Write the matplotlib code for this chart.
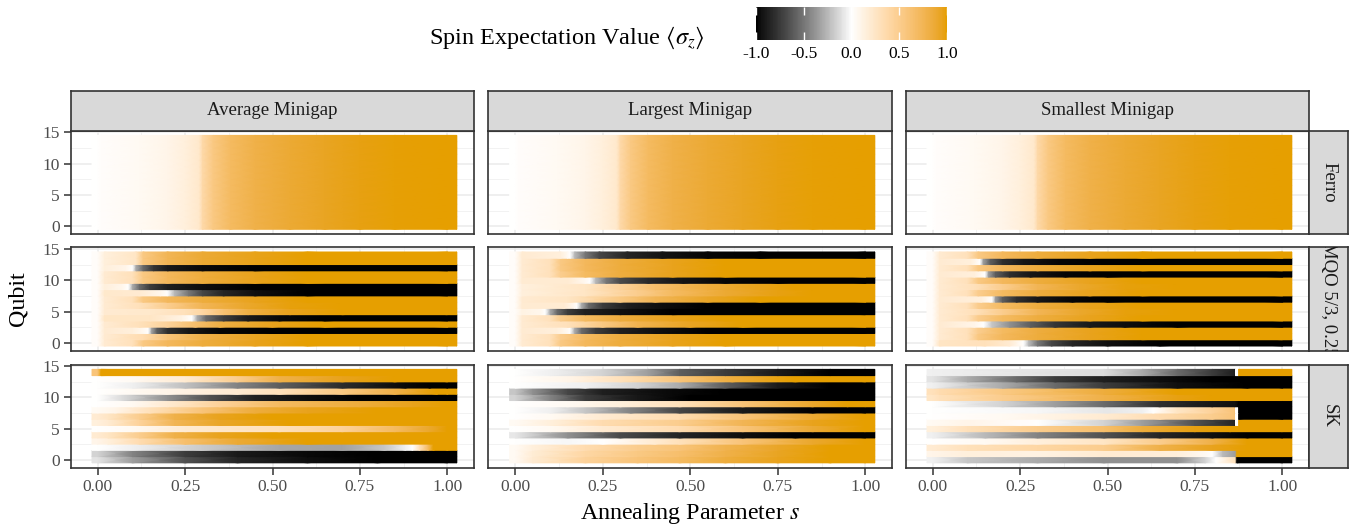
import numpy as np
import matplotlib
matplotlib.use("Agg")
import matplotlib.pyplot as plt
from matplotlib.colors import ListedColormap, to_rgb

plt.rcParams['font.family'] = ['Liberation Serif', 'DejaVu Serif']
plt.rcParams['mathtext.fontset'] = 'stix'
plt.rcParams['axes.unicode_minus'] = False

# each row: qubit 0..14, list of (s, <sigma_z>) points along the anneal
ferro_row = [(0.0, 0.0), (0.01, 0.02), (0.12, 0.05), (0.2, 0.1), (0.25, 0.15), (0.29, 0.22),
             (0.3, 0.38), (0.33, 0.55), (0.38, 0.7), (0.45, 0.8), (0.55, 0.88), (0.65, 0.93),
             (0.75, 0.97), (0.85, 0.99), (1.0, 1.0)]
ferro_avg = [ferro_row] * 15
ferro_large = [ferro_row] * 15
ferro_small = [ferro_row] * 15

mqo_avg = [
    [(0, 0.03), (0.02, 0.2), (0.1, 0.3), (0.13, 0.55), (0.2, 0.72), (0.3, 0.85), (0.45, 0.95), (0.6, 1), (1, 1)],
    [(0, 0.03), (0.02, 0.2), (0.13, 0.35), (0.2, 0.6), (0.3, 0.8), (0.45, 0.93), (0.6, 1), (1, 1)],
    [(0, 0.03), (0.02, 0.2), (0.1, 0.15), (0.135, 0.05), (0.145, 0), (0.155, -0.35), (0.17, -0.6), (0.2, -0.8), (0.26, -0.92), (0.35, -0.98), (0.5, -1), (1, -1)],
    [(0, 0.03), (0.02, 0.2), (0.12, 0.3), (0.2, 0.45), (0.28, 0.65), (0.35, 0.82), (0.5, 0.95), (0.65, 1), (1, 1)],
    [(0, 0.03), (0.02, 0.25), (0.15, 0.25), (0.24, 0.12), (0.27, 0), (0.285, -0.3), (0.31, -0.55), (0.36, -0.75), (0.43, -0.9), (0.52, -0.97), (0.65, -1), (1, -1)],
    [(0, 0.03), (0.02, 0.2), (0.15, 0.22), (0.25, 0.3), (0.3, 0.4), (0.36, 0.62), (0.43, 0.82), (0.55, 0.95), (0.7, 1), (1, 1)],
    [(0, 0.03), (0.02, 0.2), (0.12, 0.3), (0.2, 0.5), (0.3, 0.75), (0.42, 0.9), (0.55, 0.98), (0.7, 1), (1, 1)],
    [(0, 0.03), (0.02, 0.2), (0.1, 0.3), (0.13, 0.55), (0.2, 0.72), (0.3, 0.85), (0.45, 0.95), (0.6, 1), (1, 1)],
    [(0, 0.03), (0.02, 0.22), (0.12, 0.2), (0.18, 0.08), (0.2, 0), (0.22, -0.25), (0.26, -0.5), (0.3, -0.7), (0.36, -0.85), (0.45, -0.95), (0.6, -1), (1, -1)],
    [(0, 0.03), (0.02, 0.15), (0.07, 0.08), (0.088, 0), (0.1, -0.3), (0.12, -0.55), (0.15, -0.75), (0.2, -0.88), (0.3, -0.96), (0.45, -1), (1, -1)],
    [(0, 0.03), (0.02, 0.2), (0.1, 0.3), (0.13, 0.55), (0.2, 0.72), (0.3, 0.85), (0.45, 0.95), (0.6, 1), (1, 1)],
    [(0, 0.03), (0.02, 0.2), (0.1, 0.3), (0.13, 0.55), (0.2, 0.72), (0.3, 0.85), (0.45, 0.95), (0.6, 1), (1, 1)],
    [(0, 0.03), (0.02, 0.15), (0.08, 0.1), (0.1, 0), (0.11, -0.3), (0.13, -0.55), (0.16, -0.78), (0.2, -0.9), (0.3, -0.97), (0.45, -1), (1, -1)],
    [(0, 0.03), (0.02, 0.15), (0.11, 0.25), (0.13, 0.55), (0.2, 0.75), (0.3, 0.88), (0.45, 0.96), (0.6, 1), (1, 1)],
    [(0, 0.03), (0.02, 0.15), (0.11, 0.25), (0.13, 0.55), (0.2, 0.75), (0.3, 0.88), (0.45, 0.96), (0.6, 1), (1, 1)],
]

mqo_large = [
    [(0, 0.03), (0.02, 0.2), (0.1, 0.3), (0.13, 0.55), (0.2, 0.72), (0.3, 0.85), (0.45, 0.95), (0.6, 1), (1, 1)],
    [(0, 0.03), (0.02, 0.2), (0.1, 0.3), (0.13, 0.5), (0.2, 0.7), (0.3, 0.84), (0.45, 0.95), (0.6, 1), (1, 1)],
    [(0, 0.03), (0.02, 0.2), (0.12, 0.15), (0.15, 0.05), (0.157, 0), (0.17, -0.3), (0.19, -0.55), (0.23, -0.75), (0.3, -0.88), (0.4, -0.95), (0.55, -1), (1, -1)],
    [(0, 0.03), (0.02, 0.2), (0.15, 0.3), (0.25, 0.55), (0.35, 0.78), (0.5, 0.93), (0.65, 1), (1, 1)],
    [(0, 0.03), (0.02, 0.2), (0.1, 0.3), (0.13, 0.5), (0.2, 0.7), (0.3, 0.84), (0.45, 0.95), (0.6, 1), (1, 1)],
    [(0, 0.03), (0.02, 0.12), (0.07, 0.08), (0.086, 0), (0.1, -0.3), (0.12, -0.55), (0.15, -0.75), (0.2, -0.88), (0.3, -0.95), (0.45, -1), (1, -1)],
    [(0, 0.03), (0.02, 0.2), (0.14, 0.2), (0.17, 0.05), (0.176, 0), (0.19, -0.3), (0.21, -0.55), (0.25, -0.75), (0.32, -0.88), (0.42, -0.96), (0.55, -1), (1, -1)],
    [(0, 0.03), (0.02, 0.2), (0.15, 0.25), (0.3, 0.55), (0.4, 0.75), (0.55, 0.92), (0.7, 1), (1, 1)],
    [(0, 0.03), (0.02, 0.15), (0.2, 0.25), (0.35, 0.5), (0.45, 0.7), (0.6, 0.88), (0.75, 0.97), (0.85, 1), (1, 1)],
    [(0, 0.03), (0.02, 0.15), (0.2, 0.25), (0.3, 0.45), (0.4, 0.65), (0.55, 0.85), (0.7, 0.96), (0.8, 1), (1, 1)],
    [(0, 0.03), (0.02, 0.2), (0.15, 0.2), (0.2, 0.07), (0.214, 0), (0.23, -0.25), (0.26, -0.5), (0.3, -0.68), (0.38, -0.83), (0.48, -0.93), (0.6, -0.98), (0.75, -1), (1, -1)],
    [(0, 0.03), (0.02, 0.2), (0.1, 0.3), (0.13, 0.5), (0.2, 0.7), (0.3, 0.84), (0.45, 0.95), (0.6, 1), (1, 1)],
    [(0, 0.03), (0.02, 0.2), (0.1, 0.3), (0.13, 0.55), (0.2, 0.72), (0.3, 0.85), (0.45, 0.95), (0.6, 1), (1, 1)],
    [(0, 0.03), (0.02, 0.2), (0.1, 0.3), (0.13, 0.55), (0.2, 0.72), (0.3, 0.85), (0.45, 0.95), (0.6, 1), (1, 1)],
    [(0, 0.03), (0.02, 0.2), (0.13, 0.15), (0.15, 0.05), (0.157, 0), (0.17, -0.25), (0.2, -0.5), (0.24, -0.7), (0.32, -0.85), (0.42, -0.93), (0.55, -0.98), (0.7, -1), (1, -1)],
]

mqo_small = [
    [(0, 0.03), (0.02, 0.25), (0.15, 0.3), (0.22, 0.2), (0.26, 0), (0.275, -0.25), (0.3, -0.5), (0.34, -0.7), (0.4, -0.85), (0.5, -0.95), (0.65, -1), (1, -1)],
    [(0, 0.03), (0.02, 0.2), (0.1, 0.3), (0.13, 0.55), (0.2, 0.72), (0.3, 0.85), (0.45, 0.95), (0.6, 1), (1, 1)],
    [(0, 0.03), (0.02, 0.2), (0.1, 0.3), (0.13, 0.5), (0.2, 0.7), (0.3, 0.84), (0.45, 0.95), (0.6, 1), (1, 1)],
    [(0, 0.03), (0.02, 0.2), (0.12, 0.1), (0.146, 0), (0.17, -0.2), (0.22, -0.4), (0.28, -0.6), (0.35, -0.78), (0.45, -0.9), (0.55, -0.96), (0.7, -1), (1, -1)],
    [(0, 0.03), (0.02, 0.2), (0.1, 0.3), (0.13, 0.5), (0.2, 0.7), (0.3, 0.84), (0.45, 0.95), (0.6, 1), (1, 1)],
    [(0, 0.03), (0.02, 0.2), (0.12, 0.3), (0.2, 0.5), (0.3, 0.75), (0.42, 0.9), (0.55, 0.98), (0.7, 1), (1, 1)],
    [(0, 0.03), (0.02, 0.2), (0.1, 0.3), (0.13, 0.5), (0.2, 0.7), (0.3, 0.84), (0.45, 0.95), (0.6, 1), (1, 1)],
    [(0, 0.03), (0.02, 0.2), (0.14, 0.15), (0.165, 0.03), (0.17, 0), (0.18, -0.35), (0.2, -0.6), (0.24, -0.8), (0.3, -0.92), (0.4, -0.98), (0.5, -1), (1, -1)],
    [(0, 0.03), (0.02, 0.2), (0.1, 0.3), (0.13, 0.5), (0.2, 0.7), (0.3, 0.84), (0.45, 0.95), (0.6, 1), (1, 1)],
    [(0, 0.03), (0.02, 0.2), (0.12, 0.3), (0.2, 0.5), (0.3, 0.75), (0.42, 0.9), (0.55, 0.98), (0.7, 1), (1, 1)],
    [(0, 0.03), (0.02, 0.2), (0.1, 0.3), (0.13, 0.55), (0.2, 0.72), (0.3, 0.85), (0.45, 0.95), (0.6, 1), (1, 1)],
    [(0, 0.03), (0.02, 0.2), (0.12, 0.15), (0.15, 0), (0.16, -0.35), (0.18, -0.6), (0.22, -0.8), (0.28, -0.92), (0.38, -0.98), (0.5, -1), (1, -1)],
    [(0, 0.03), (0.02, 0.2), (0.1, 0.3), (0.13, 0.55), (0.2, 0.72), (0.3, 0.85), (0.45, 0.95), (0.6, 1), (1, 1)],
    [(0, 0.03), (0.02, 0.2), (0.11, 0.15), (0.136, 0), (0.145, -0.35), (0.165, -0.6), (0.2, -0.8), (0.26, -0.92), (0.36, -0.98), (0.5, -1), (1, -1)],
    [(0, 0.03), (0.02, 0.2), (0.1, 0.3), (0.13, 0.55), (0.2, 0.72), (0.3, 0.85), (0.45, 0.95), (0.6, 1), (1, 1)],
]

sk_avg = [
    [(0, -0.1), (0.1, -0.35), (0.25, -0.65), (0.4, -0.85), (0.6, -0.96), (0.8, -1), (1, -1)],
    [(0, -0.15), (0.1, -0.45), (0.25, -0.75), (0.4, -0.9), (0.6, -0.97), (0.8, -1), (1, -1)],
    [(0, 0), (0.1, -0.05), (0.3, -0.18), (0.52, -0.32), (0.7, -0.33), (0.82, -0.2), (0.88, -0.05), (0.9, 0), (0.92, 0.3), (0.945, 0.7), (0.96, 1), (1, 1)],
    [(0, 0.1), (0.03, 0.15), (0.12, 0.35), (0.25, 0.65), (0.4, 0.88), (0.6, 1), (1, 1)],
    [(0, 0.2), (0.03, 0.25), (0.12, 0.5), (0.22, 0.8), (0.35, 0.95), (0.5, 1), (1, 1)],
    [(0, 0), (0.1, 0.05), (0.25, 0.2), (0.52, 0.3), (0.7, 0.45), (0.85, 0.7), (0.95, 0.9), (1, 1)],
    [(0, 0.15), (0.03, 0.2), (0.12, 0.45), (0.22, 0.75), (0.35, 0.92), (0.55, 1), (1, 1)],
    [(0, 0.2), (0.03, 0.25), (0.12, 0.5), (0.22, 0.8), (0.35, 0.95), (0.5, 1), (1, 1)],
    [(0, 0.05), (0.05, 0.1), (0.15, 0.3), (0.3, 0.6), (0.45, 0.85), (0.6, 0.95), (0.8, 1), (1, 1)],
    [(0, 0), (0.1, 0.05), (0.2, 0.2), (0.35, 0.45), (0.52, 0.7), (0.75, 0.85), (0.9, 0.95), (1, 1)],
    [(0, 0), (0.07, -0.12), (0.2, -0.4), (0.32, -0.65), (0.45, -0.87), (0.6, -0.96), (0.75, -1), (1, -1)],
    [(0, 0), (0.2, 0.1), (0.4, 0.2), (0.52, 0.3), (0.7, 0.55), (0.85, 0.8), (0.97, 1), (1, 1)],
    [(0, 0), (0.1, -0.05), (0.25, -0.22), (0.4, -0.45), (0.52, -0.6), (0.7, -0.82), (0.88, -0.97), (0.95, -1), (1, -1)],
    [(0, 0), (0.1, 0.05), (0.25, 0.2), (0.4, 0.5), (0.52, 0.8), (0.7, 0.95), (0.85, 1), (1, 1)],
    [(0, 0.6), (0.01, 1), (1, 1)],
]

sk_large = [
    [(0, 0.05), (0.05, 0.2), (0.2, 0.45), (0.35, 0.6), (0.47, 0.7), (0.6, 0.85), (0.75, 0.95), (0.9, 1), (1, 1)],
    [(0, 0.05), (0.05, 0.18), (0.2, 0.4), (0.35, 0.55), (0.47, 0.65), (0.6, 0.8), (0.75, 0.93), (0.9, 1), (1, 1)],
    [(0, 0.05), (0.05, 0.15), (0.2, 0.35), (0.35, 0.5), (0.47, 0.6), (0.6, 0.78), (0.75, 0.92), (0.9, 1), (1, 1)],
    [(0, 0), (0.15, -0.03), (0.25, 0), (0.4, 0.2), (0.47, 0.3), (0.65, 0.6), (0.85, 0.9), (1, 1)],
    [(0, -0.08), (0.15, -0.4), (0.3, -0.68), (0.47, -0.85), (0.65, -0.96), (0.8, -1), (1, -1)],
    [(0, 0), (0.1, 0.05), (0.25, 0.2), (0.47, 0.35), (0.65, 0.6), (0.85, 0.88), (1, 1)],
    [(0, 0.05), (0.1, 0.15), (0.25, 0.35), (0.47, 0.5), (0.65, 0.75), (0.85, 0.95), (1, 1)],
    [(0, 0), (0.1, 0.05), (0.25, 0.2), (0.47, 0.35), (0.65, 0.6), (0.85, 0.88), (1, 1)],
    [(0, 0), (0.1, -0.05), (0.2, -0.2), (0.33, -0.45), (0.47, -0.7), (0.65, -0.9), (0.85, -1), (1, -1)],
    [(0, 0), (0.15, 0.05), (0.3, 0.15), (0.47, 0.3), (0.65, 0.6), (0.85, 0.9), (0.95, 1), (1, 1)],
    [(0, -0.15), (0.1, -0.45), (0.2, -0.75), (0.35, -0.92), (0.5, -1), (1, -1)],
    [(0, -0.2), (0.05, -0.4), (0.15, -0.7), (0.25, -0.88), (0.45, -0.97), (0.6, -1), (1, -1)],
    [(0, 0), (0.2, -0.05), (0.35, -0.15), (0.47, -0.3), (0.6, -0.6), (0.75, -0.9), (0.9, -1), (1, -1)],
    [(0, 0), (0.15, 0.1), (0.3, 0.3), (0.47, 0.6), (0.62, 0.85), (0.8, 1), (1, 1)],
    [(0, 0), (0.1, -0.05), (0.25, -0.15), (0.38, -0.35), (0.47, -0.6), (0.6, -0.75), (0.75, -0.9), (0.9, -1), (1, -1)],
]

sk_small = [
    [(0, -0.05), (0.1, -0.2), (0.3, -0.3), (0.49, -0.4), (0.7, -0.4), (0.78, -0.15), (0.81, 0), (0.865, 0.3), (0.87, -1), (1, -1)],
    [(0, 0.1), (0.1, 0.15), (0.3, 0.12), (0.5, 0.2), (0.7, 0.15), (0.78, 0.05), (0.8, 0), (0.83, -0.25), (0.865, -0.35), (0.87, 1), (1, 1)],
    [(0, 0.2), (0.1, 0.3), (0.3, 0.4), (0.49, 0.5), (0.65, 0.8), (0.8, 0.95), (0.9, 1), (1, 1)],
    [(0, 0), (0.15, 0.05), (0.3, 0.15), (0.49, 0.25), (0.65, 0.5), (0.8, 0.8), (0.9, 1), (1, 1)],
    [(0, -0.05), (0.15, -0.25), (0.3, -0.45), (0.49, -0.65), (0.65, -0.85), (0.8, -0.95), (0.9, -1), (1, -1)],
    [(0, 0.15), (0.1, 0.3), (0.3, 0.5), (0.49, 0.65), (0.6, 0.85), (0.75, 0.97), (0.85, 1), (1, 1)],
    [(0, 0.05), (0.1, 0.1), (0.25, 0.03), (0.3, 0), (0.49, -0.15), (0.6, -0.35), (0.75, -0.65), (0.865, -0.85), (0.866, 0), (0.874, 0), (0.875, 1), (1, 1)],
    [(0, 0), (0.2, 0.05), (0.35, 0.12), (0.49, 0.2), (0.65, 0.35), (0.8, 0.5), (0.865, 0.6), (0.866, 0), (0.874, 0), (0.875, -1), (1, -1)],
    [(0, 0), (0.3, -0.03), (0.5, -0.08), (0.6, -0.05), (0.63, 0), (0.7, 0.25), (0.8, 0.45), (0.865, 0.6), (0.866, 0), (0.874, 0), (0.875, -1), (1, -1)],
    [(0, 0), (0.2, -0.15), (0.35, -0.35), (0.49, -0.55), (0.65, -0.8), (0.8, -0.92), (0.865, -0.95), (0.875, -1), (1, -1)],
    [(0, 0.25), (0.02, 0.3), (0.2, 0.5), (0.49, 0.8), (0.7, 0.97), (0.8, 1), (1, 1)],
    [(0, 0.3), (0.02, 0.35), (0.2, 0.55), (0.49, 0.85), (0.7, 1), (1, 1)],
    [(0, -0.05), (0.2, -0.3), (0.35, -0.55), (0.49, -0.75), (0.7, -0.95), (0.9, -1), (1, -1)],
    [(0, -0.1), (0.1, -0.3), (0.24, -0.55), (0.35, -0.75), (0.49, -0.88), (0.65, -0.96), (0.8, -1), (1, -1)],
    [(0, -0.05), (0.49, -0.12), (0.6, -0.3), (0.7, -0.55), (0.8, -0.75), (0.865, -0.88), (0.866, 0), (0.874, 0), (0.875, 1), (1, 1)],
]

col_labels = ["Average Minigap", "Largest Minigap", "Smallest Minigap"]
row_labels = ["Ferro", "MQO 5/3, 0.25", "SK"]
panels = [[ferro_avg, ferro_large, ferro_small],
          [mqo_avg, mqo_large, mqo_small],
          [sk_avg, sk_large, sk_small]]

s_ticks = [0.0, 0.25, 0.5, 0.75, 1.0]
s_tick_labels = ["0.00", "0.25", "0.50", "0.75", "1.00"]
q_ticks = [0, 5, 10, 15]
cbar_ticks = [-1.0, -0.5, 0.0, 0.5, 1.0]
cbar_tick_labels = ["-1.0", "-0.5", "0.0", "0.5", "1.0"]

S_LO, S_HI = -0.016, 1.027   # tile extent along s


# diverging black - white - orange scale, blended in CIELAB
def srgb_to_lab(rgb):
    c = np.array(rgb, dtype=float)
    lin = np.where(c <= 0.04045, c / 12.92, ((c + 0.055) / 1.055) ** 2.4)
    m = np.array([[0.4124, 0.3576, 0.1805], [0.2126, 0.7152, 0.0722], [0.0193, 0.1192, 0.9505]])
    xyz = m @ lin / np.array([0.95047, 1.0, 1.08883])
    f = np.where(xyz > 0.008856, np.cbrt(xyz), 7.787 * xyz + 16 / 116)
    return np.array([116 * f[1] - 16, 500 * (f[0] - f[1]), 200 * (f[1] - f[2])])


def lab_to_srgb(lab):
    fy = (lab[0] + 16) / 116
    f = np.array([fy + lab[1] / 500, fy, fy - lab[2] / 200])
    xyz = np.where(f ** 3 > 0.008856, f ** 3, (f - 16 / 116) / 7.787) * np.array([0.95047, 1.0, 1.08883])
    m = np.array([[3.2406, -1.5372, -0.4986], [-0.9689, 1.8758, 0.0415], [0.0557, -0.2040, 1.0570]])
    lin = np.clip(m @ xyz, 0, 1)
    return np.clip(np.where(lin <= 0.0031308, 12.92 * lin, 1.055 * lin ** (1 / 2.4) - 0.055), 0, 1)


lab_lo, lab_mid, lab_hi = [srgb_to_lab(to_rgb(h)) for h in ("#000000", "#FFFFFF", "#E69F00")]
cm_colors = []
for t in np.linspace(-1, 1, 256):
    if t < 0:
        lab = lab_mid + (lab_lo - lab_mid) * (-t)
    else:
        lab = lab_mid + (lab_hi - lab_mid) * t
    cm_colors.append(lab_to_srgb(lab))
spin_cmap = ListedColormap(cm_colors, name="spin")

W, H = 1361, 532
fig = plt.figure(figsize=(W / 100, H / 100), dpi=100)


def px_axes(x0, y0, x1, y1):
    return fig.add_axes([x0 / W, 1 - y1 / H, (x1 - x0) / W, (y1 - y0) / H])


def draw_rows(ax, rows):
    for q, pts in enumerate(rows):
        s = [S_LO] + [p[0] for p in pts] + [S_HI]
        v = [pts[0][1]] + [p[1] for p in pts] + [pts[-1][1]]
        X = np.array([s, s])
        Y = np.array([[q - 0.5] * len(s), [q + 0.5] * len(s)])
        C = np.array([v, v])
        ax.pcolormesh(X, Y, C, shading="gouraud", cmap=spin_cmap, vmin=-1, vmax=1,
                      antialiased=False, zorder=2)


col_x = [(70.7, 474.3), (488.3, 892.3), (905.7, 1309.3)]
row_y = [(130.7, 234.0), (247.3, 350.7), (364.7, 467.5)]
edge = "#333333"
tick_col = "#4D4D4D"

for r in range(3):
    for c in range(3):
        x0, x1 = col_x[c]
        y0, y1 = row_y[r]
        ax = px_axes(x0, y0, x1, y1)
        draw_rows(ax, panels[r][c])
        ax.set_xlim(-0.077, 1.077)
        ax.set_ylim(-1.25, 15.25)
        ax.set_xticks(s_ticks)
        ax.set_xticks([0.125, 0.375, 0.625, 0.875], minor=True)
        ax.set_yticks(q_ticks)
        ax.set_yticks([2.5, 7.5, 12.5], minor=True)
        ax.grid(which="major", color="#EBEBEB", lw=1.1, zorder=0)
        ax.grid(which="minor", color="#F2F2F2", lw=0.7, zorder=0)
        ax.set_axisbelow(True)
        for sp in ax.spines.values():
            sp.set_color(edge)
            sp.set_linewidth(1.2)
        ax.tick_params(which="minor", length=0)
        ax.tick_params(which="major", length=5, width=1.1, color=edge,
                       labelcolor=tick_col, labelsize=12.5, pad=3)
        if c == 0:
            ax.set_yticklabels([str(t) for t in q_ticks])
        else:
            ax.tick_params(axis="y", length=0, labelleft=False)
        if r == 2:
            ax.set_xticklabels(s_tick_labels)
        else:
            ax.tick_params(axis="x", length=0, labelbottom=False)

# facet strips across the top
for c in range(3):
    x0, x1 = col_x[c]
    sax = px_axes(x0, 90.7, x1, 130.7)
    sax.set_facecolor("#D9D9D9")
    sax.set_xticks([])
    sax.set_yticks([])
    for sp in sax.spines.values():
        sp.set_color(edge)
        sp.set_linewidth(1.2)
    sax.text(0.5, 0.5, col_labels[c], transform=sax.transAxes, ha="center", va="center",
             fontsize=13.5, color="#1A1A1A")

# facet strips down the right side
for r in range(3):
    y0, y1 = row_y[r]
    sax = px_axes(1309.3, y0, 1348.3, y1)
    sax.set_facecolor("#D9D9D9")
    sax.set_xticks([])
    sax.set_yticks([])
    for sp in sax.spines.values():
        sp.set_color(edge)
        sp.set_linewidth(1.2)
    sax.text(0.5, 0.5, row_labels[r], transform=sax.transAxes, ha="center", va="center",
             rotation=-90, fontsize=13.5, color="#1A1A1A", clip_on=True)

fig.text(18 / W, 1 - 299 / H, "Qubit", rotation=90, ha="center", va="center",
         fontsize=17.3, color="#000000")
fig.text(690 / W, 1 - 514 / H, "Annealing Parameter $s$", ha="center", va="center",
         fontsize=17.3, color="#000000")

# colour bar legend
cax = px_axes(756, 7, 947, 40)
grad = np.linspace(-1, 1, 400).reshape(1, -1)
cax.imshow(grad, cmap=spin_cmap, vmin=-1, vmax=1, aspect="auto",
           extent=[-1, 1, 0, 1], interpolation="nearest")
cax.set_xlim(-1, 1)
cax.set_ylim(0, 1)
for sp in cax.spines.values():
    sp.set_visible(False)
cax.set_yticks([])
cax.set_xticks(cbar_ticks)
cax.set_xticklabels(cbar_tick_labels)
cax.tick_params(axis="x", direction="in", length=6, width=1, color="white",
                top=True, bottom=True, labelsize=12.5, labelcolor="#000000", pad=4)
fig.text(705 / W, 1 - 38 / H, r"Spin Expectation Value $\langle\sigma_z\rangle$",
         ha="right", va="center", fontsize=17.5, color="#000000")

fig.savefig("out.png", dpi=100)
